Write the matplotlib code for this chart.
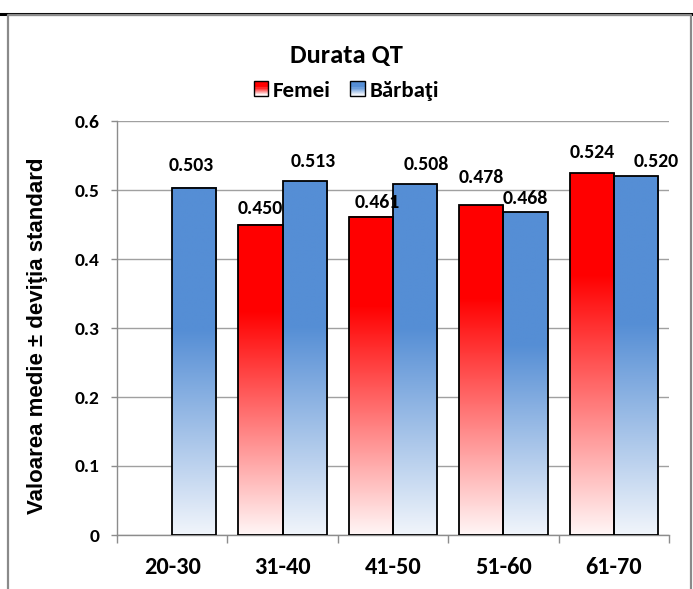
import numpy as np
import matplotlib
matplotlib.use("Agg")
import matplotlib.pyplot as plt
from matplotlib.patches import Rectangle
from matplotlib.lines import Line2D
from matplotlib.legend_handler import HandlerBase
from matplotlib.colors import to_rgb

# ---------------- data ----------------
categories = ["20-30", "31-40", "41-50", "51-60", "61-70"]
femei = [np.nan, 0.450, 0.461, 0.478, 0.524]
barbati = [0.503, 0.513, 0.508, 0.468, 0.520]
series_names = ["Femei", "Bărbaţi"]
yticks = [0, 0.1, 0.2, 0.3, 0.4, 0.5, 0.6]
ytick_labels = ["0", "0.1", "0.2", "0.3", "0.4", "0.5", "0.6"]
title = "Durata QT"
ylabel = "Valoarea medie ± deviţia standard"
# label placement (px) relative to bar top centre, as placed in the reference
femei_label_dy = [0, 16, 14, 28, 21]
barbati_label_dy = [22, 20, 20, 14, 15]
femei_label_dx = [0, 0, 6, 0, 0]
barbati_label_dx = [-3, 9, 11, 0, 20]

# ---------------- style ----------------
RED_TOP, RED_BOT, RED_SOLID = "#FF0000", "#FFF6F6", 0.28
BLUE_TOP, BLUE_BOT, BLUE_SOLID = "#558ED5", "#F1F5FB", 0.41
CAL = ["Carlito", "Lato", "DejaVu Sans"]
ARIAL = ["Liberation Sans", "DejaVu Sans"]
W, H, DPI = 693, 589, 100

fig = plt.figure(figsize=(W / DPI, H / DPI), dpi=DPI)
ax = fig.add_axes([117 / W, 1 - 535 / H, (669 - 117) / W, (535 - 121) / H])


def grad_colors(n, top, bot, solid):
    """rows from bottom (0) to top (n-1)"""
    t = np.linspace(0, 1, n)
    frac_from_top = 1 - t
    mix = np.clip((frac_from_top - solid) / (1 - solid), 0, 1)
    c_top, c_bot = np.array(to_rgb(top)), np.array(to_rgb(bot))
    return c_top[None, :] * (1 - mix[:, None]) + c_bot[None, :] * mix[:, None]


x = np.arange(len(categories))
bw = 0.4
series = [
    (femei, x - bw / 2, RED_TOP, RED_BOT, RED_SOLID, femei_label_dx, femei_label_dy),
    (barbati, x + bw / 2, BLUE_TOP, BLUE_BOT, BLUE_SOLID, barbati_label_dx, barbati_label_dy),
]
for vals, xpos, ctop, cbot, solid, dxs, dys in series:
    vals_arr = np.array(vals, dtype=float)
    bars = ax.bar(xpos, np.nan_to_num(vals_arr), width=bw, facecolor="none",
                  edgecolor="black", linewidth=1.3, zorder=3)
    for rect, v, dx, dy in zip(bars, vals_arr, dxs, dys):
        if np.isnan(v):
            rect.set_visible(False)
            continue
        x0, w, h = rect.get_x(), rect.get_width(), rect.get_height()
        img = grad_colors(256, ctop, cbot, solid)[:, None, :]
        ax.imshow(img, extent=[x0, x0 + w, 0, h], origin="lower", aspect="auto",
                  interpolation="bilinear", zorder=2)
        ax.annotate(f"{v:.3f}", (x0 + w / 2, h), xytext=(dx * 72 / DPI, dy * 72 / DPI),
                    textcoords="offset points", ha="center", va="center",
                    fontsize=14.2, fontweight="bold", family=CAL, zorder=4)

ax.set_xlim(-0.5, len(categories) - 0.5)
ax.set_ylim(0, 0.6)

for s in ["top", "right"]:
    ax.spines[s].set_visible(False)
for s in ["left", "bottom"]:
    ax.spines[s].set_color("#8C8C8C")
    ax.spines[s].set_linewidth(1.0)
ax.set_yticks(yticks)
ax.set_yticklabels(ytick_labels, fontsize=14, fontweight="bold", family=CAL)
ax.yaxis.grid(True, color="#A0A0A0", linewidth=1.0, zorder=0)
ax.set_axisbelow(True)
ax.tick_params(axis="y", direction="out", length=4.5, width=1, color="#8C8C8C", pad=8)

ax.set_xticks(np.arange(len(categories) + 1) - 0.5)
ax.set_xticklabels([])
ax.set_xticks(x, minor=True)
ax.set_xticklabels(categories, minor=True, fontsize=17.5, fontweight="bold", family=CAL)
ax.tick_params(axis="x", which="major", direction="out", length=6, width=1, color="#8C8C8C")
ax.tick_params(axis="x", which="minor", length=0, pad=16)

fig.text(0.5, 1 - 56 / H, title, ha="center", va="center", fontsize=19,
         fontweight="bold", family=CAL)
fig.text(38 / W, 1 - 336 / H, ylabel, rotation=90, ha="center", va="center",
         fontsize=16, fontweight="bold", family=ARIAL)


class GradHandler(HandlerBase):
    def __init__(self, top, bot):
        super().__init__()
        self.top, self.bot = top, bot

    def create_artists(self, legend, orig_handle, xdescent, ydescent, width, height,
                       fontsize, trans):
        s = fontsize * 0.62
        x0 = -xdescent + (width - s)
        y0 = -ydescent + (height - s) / 2 + fontsize * 0.02
        n = 12
        cols = grad_colors(n, self.top, self.bot, 0.35)
        arts = []
        for i in range(n):
            arts.append(Rectangle((x0, y0 + i * s / n), s, s / n + 0.05, facecolor=cols[i],
                                  edgecolor="none", transform=trans))
        arts.append(Rectangle((x0, y0), s, s, facecolor="none", edgecolor="black",
                              linewidth=1.0, transform=trans))
        return arts


h_f = Rectangle((0, 0), 1, 1)
h_b = Rectangle((0, 0), 1, 1)
fig.legend([h_f, h_b], series_names, loc="center", bbox_to_anchor=(0.5, 1 - 91 / H),
           ncol=2, frameon=False, handlelength=0.62, handleheight=0.7, handletextpad=0.22,
           columnspacing=0.85,
           prop={"family": CAL, "weight": "bold", "size": 16.5},
           handler_map={h_f: GradHandler(RED_TOP, RED_BOT),
                        h_b: GradHandler(BLUE_TOP, BLUE_BOT)})

fig.add_artist(Line2D([0, 1], [1 - 13.5 / H, 1 - 13.5 / H], color="black", linewidth=2.2,
                      transform=fig.transFigure))
fig.add_artist(Line2D([7.5 / W, 7.5 / W, 690.5 / W, 690.5 / W],
                      [0, 1 - 15 / H, 1 - 15 / H, 0], color="#8A8A8A", linewidth=1.6,
                      transform=fig.transFigure))

fig.savefig("out.png", dpi=DPI)
